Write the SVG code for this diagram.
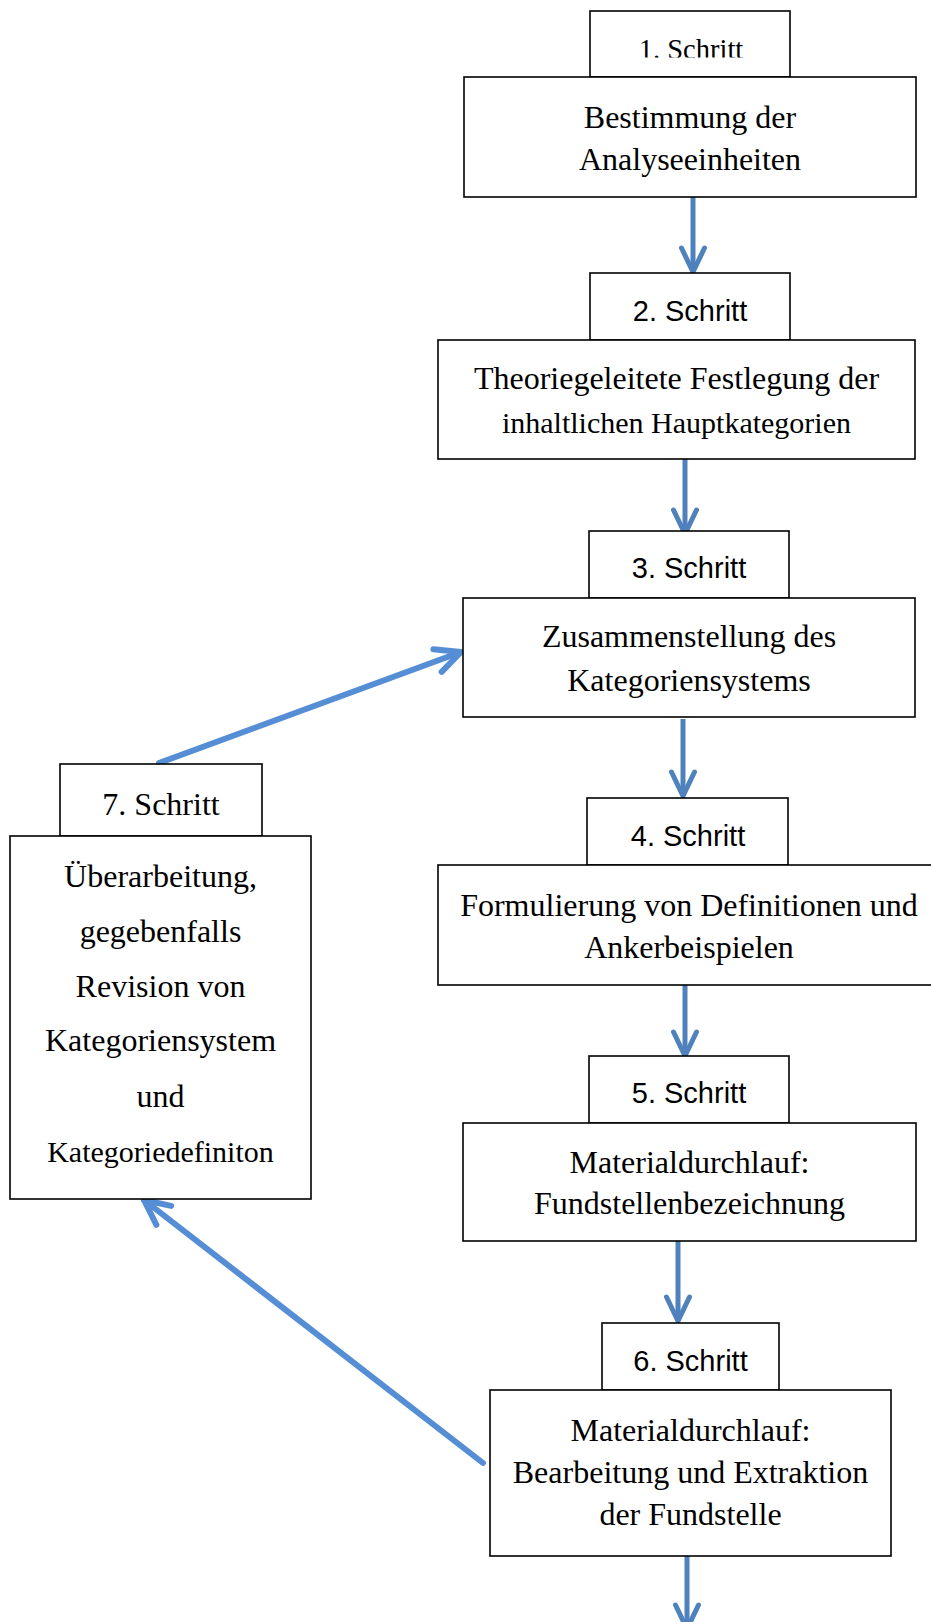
<svg xmlns="http://www.w3.org/2000/svg" width="931" height="1622" viewBox="0 0 931 1622">
<style>
.box{fill:#fff;stroke:#000;stroke-width:1.6}
.serif{font-family:"Liberation Serif","Times New Roman",serif;font-size:32px;fill:#000;text-anchor:middle}
.serif.sm{font-size:28.5px}
.serif.md{font-size:30px}
.sans{font-family:"Liberation Sans",Arial,sans-serif;font-size:29px;fill:#000;text-anchor:middle}
.av{stroke:#4f81bd;stroke-width:5;fill:none}
.ad{stroke:#558ed5;stroke-width:6;fill:none;stroke-linecap:round}
</style>
<defs>
<marker id="hv" markerUnits="userSpaceOnUse" overflow="visible" orient="auto" refX="0" refY="0" markerWidth="30" markerHeight="30">
<path d="M-24,-11.5 L0,0 L-24,11.5" fill="none" stroke="#4f81bd" stroke-width="5" stroke-linecap="round" stroke-linejoin="round"/>
</marker>
<marker id="hd" markerUnits="userSpaceOnUse" overflow="visible" orient="auto" refX="0" refY="0" markerWidth="30" markerHeight="30">
<path d="M-25,-12 L0,0 L-25,12" fill="none" stroke="#558ed5" stroke-width="6" stroke-linecap="round" stroke-linejoin="round"/>
</marker>
<clipPath id="c1"><rect x="590" y="0" width="200" height="57.5"/></clipPath>
</defs>

<g id="connectors">
<line class="av" x1="693" y1="197" x2="693" y2="272" marker-end="url(#hv)"/>
<line class="av" x1="685" y1="459" x2="685" y2="534" marker-end="url(#hv)"/>
<line class="av" x1="683" y1="719" x2="683" y2="796" marker-end="url(#hv)"/>
<line class="av" x1="685" y1="985" x2="685" y2="1056" marker-end="url(#hv)"/>
<line class="av" x1="678" y1="1241" x2="678" y2="1321" marker-end="url(#hv)"/>
<line class="av" x1="687" y1="1556" x2="687" y2="1629" marker-end="url(#hv)"/>
<line class="ad" x1="159" y1="763" x2="461" y2="652" marker-end="url(#hd)"/>
<line class="ad" x1="483" y1="1463" x2="144" y2="1200" marker-end="url(#hd)"/>
</g>

<g id="step1">
<rect class="box" x="590" y="11" width="200" height="66"/>
<text class="serif sm" x="691" y="59" clip-path="url(#c1)">1. Schritt</text>
<rect class="box" x="464" y="77" width="452" height="120"/>
<text class="serif" x="690" y="128">Bestimmung der</text>
<text class="serif" x="690" y="170">Analyseeinheiten</text>
</g>

<g id="step2">
<rect class="box" x="590" y="273" width="200" height="67"/>
<text class="sans" x="690" y="321">2. Schritt</text>
<rect class="box" x="438" y="340" width="477" height="119"/>
<text class="serif" x="676.5" y="389">Theoriegeleitete Festlegung der</text>
<text class="serif md" x="676.5" y="433">inhaltlichen Hauptkategorien</text>
</g>

<g id="step3">
<rect class="box" x="589" y="531" width="200" height="67"/>
<text class="sans" x="689" y="578">3. Schritt</text>
<rect class="box" x="463" y="598" width="452" height="119"/>
<text class="serif" x="689" y="647">Zusammenstellung des</text>
<text class="serif" x="689" y="691">Kategoriensystems</text>
</g>

<g id="step4">
<rect class="box" x="587" y="798" width="201" height="67"/>
<text class="sans" x="688" y="846">4. Schritt</text>
<rect class="box" x="438" y="865" width="502" height="120"/>
<text class="serif" x="689" y="916">Formulierung von Definitionen und</text>
<text class="serif" x="689" y="958">Ankerbeispielen</text>
</g>

<g id="step5">
<rect class="box" x="589" y="1056" width="200" height="67"/>
<text class="sans" x="689" y="1103">5. Schritt</text>
<rect class="box" x="463" y="1123" width="453" height="118"/>
<text class="serif" x="689.5" y="1173">Materialdurchlauf:</text>
<text class="serif" x="689.5" y="1214">Fundstellenbezeichnung</text>
</g>

<g id="step6">
<rect class="box" x="602" y="1323" width="177" height="67"/>
<text class="sans" x="690.5" y="1371">6. Schritt</text>
<rect class="box" x="490" y="1390" width="401" height="166"/>
<text class="serif" x="690.5" y="1441">Materialdurchlauf:</text>
<text class="serif" x="690.5" y="1483">Bearbeitung und Extraktion</text>
<text class="serif" x="690.5" y="1525">der Fundstelle</text>
</g>

<g id="step7">
<rect class="box" x="60" y="764" width="202" height="72"/>
<text class="serif" x="161" y="815">7. Schritt</text>
<rect class="box" x="10" y="836" width="301" height="363"/>
<text class="serif" x="160.5" y="887">Überarbeitung,</text>
<text class="serif" x="160.5" y="942">gegebenfalls</text>
<text class="serif" x="160.5" y="997">Revision von</text>
<text class="serif" x="160.5" y="1051">Kategoriensystem</text>
<text class="serif" x="160.5" y="1107">und</text>
<text class="serif md" x="160.5" y="1162">Kategoriedefiniton</text>
</g>
</svg>
